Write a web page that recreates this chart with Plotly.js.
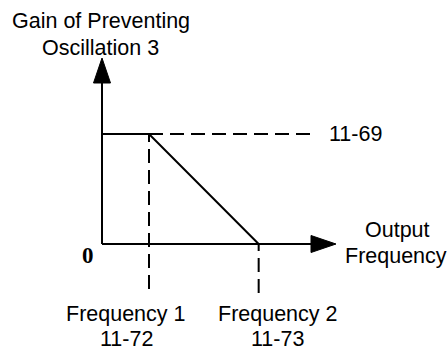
<!DOCTYPE html>
<html><head><meta charset="utf-8">
<script src="https://cdn.plot.ly/plotly-3.0.1.min.js"></script>
<style>html,body{margin:0;padding:0;background:#fff;} #chart{width:448px;height:351px;}</style>
</head><body><div id="chart"></div>
<script>
// ---- data ----
const freqPoints = [0, 3, 10];            // start, Frequency 1 (11-72), Frequency 2 (11-73)
const gainValues = [1, 1, 0];             // gain of preventing oscillation 3 (11-69 level)
const freqNames = ["Frequency 1", "Frequency 2"];
const freqParams = ["11-72", "11-73"];
const gainParam = "11-69";
const yTitleLines = ["Gain of Preventing", "Oscillation 3"];
const xTitleLines = ["Output", "Frequency"];
const zeroLabel = "0";

// ---- scale / layout ----
const W = 448, H = 351, ox = 102, oy = 244, sx = 47 / 3, sy = 110;
const X = p => (p - ox) / sx, Y = p => (oy - p) / sy;
const dx = p => p / sx, dy = p => p / sy;
const xr = [X(0), X(W)], yr = [Y(H), Y(0)];
const xTip = X(336), yTip = Y(58);
const headL = 25, headW = 8.5;
const f1 = freqPoints[1], f2 = freqPoints[2], g = gainValues[0];

const black = '#000';
const font = {family: 'Liberation Sans, Arial, sans-serif', size: 21.5, color: black};
const dash = '14px,7px';

const traces = [
  {x: freqPoints, y: gainValues, mode: 'lines', line: {color: black, width: 2}, hoverinfo: 'skip'},
  {x: [f1, X(310)], y: [g, g], mode: 'lines', line: {color: black, width: 2, dash: dash}, hoverinfo: 'skip'},
  {x: [f1, f1], y: [Y(289), g], mode: 'lines', line: {color: black, width: 2, dash: dash}, hoverinfo: 'skip'},
  {x: [f2, f2], y: [Y(293), 0], mode: 'lines', line: {color: black, width: 2, dash: dash}, hoverinfo: 'skip'}
];

const shapes = [
  {type: 'line', xref: 'x', yref: 'y', x0: 0, y0: 0, x1: xTip - dx(headL), y1: 0, line: {color: black, width: 2}},
  {type: 'line', xref: 'x', yref: 'y', x0: 0, y0: 0, x1: 0, y1: yTip - dy(headL), line: {color: black, width: 2}},
  {type: 'path', xref: 'x', yref: 'y', fillcolor: black, line: {color: black, width: 1},
   path: `M${xTip},0 L${xTip - dx(headL)},${dy(headW)} L${xTip - dx(headL)},${-dy(headW)} Z`},
  {type: 'path', xref: 'x', yref: 'y', fillcolor: black, line: {color: black, width: 1},
   path: `M0,${yTip} L${dx(headW)},${yTip - dy(headL)} L${-dx(headW)},${yTip - dy(headL)} Z`}
];

function ann(text, x, y, opts) {
  return Object.assign({text: text, x: x, y: y, xref: 'x', yref: 'y', showarrow: false,
    xanchor: 'center', yanchor: 'middle', font: font}, opts || {});
}
const annotations = [
  ann(yTitleLines[0], X(101), Y(21)),
  ann(yTitleLines[1], X(100), Y(48)),
  ann(xTitleLines[0], X(397), Y(230)),
  ann(xTitleLines[1], X(396), Y(256)),
  ann(gainParam, X(327), g, {xanchor: 'left'}),
  ann(freqNames[0], f1, Y(314), {xshift: -23}),
  ann(freqParams[0], f1, Y(339), {xshift: -23}),
  ann(freqNames[1], f2, Y(314), {xshift: 19}),
  ann(freqParams[1], f2, Y(339), {xshift: 19}),
  ann('<b>' + zeroLabel + '</b>', X(88), Y(255),
      {font: {family: 'Liberation Serif, Times New Roman, serif', size: 23, color: black}})
];

const layout = {
  width: W, height: H, margin: {l: 0, r: 0, t: 0, b: 0},
  paper_bgcolor: '#fff', plot_bgcolor: '#fff', showlegend: false,
  xaxis: {range: xr, visible: false, fixedrange: true},
  yaxis: {range: yr, visible: false, fixedrange: true},
  shapes: shapes, annotations: annotations
};
Plotly.newPlot('chart', traces, layout, {displayModeBar: false, staticPlot: true});
</script></body></html>
